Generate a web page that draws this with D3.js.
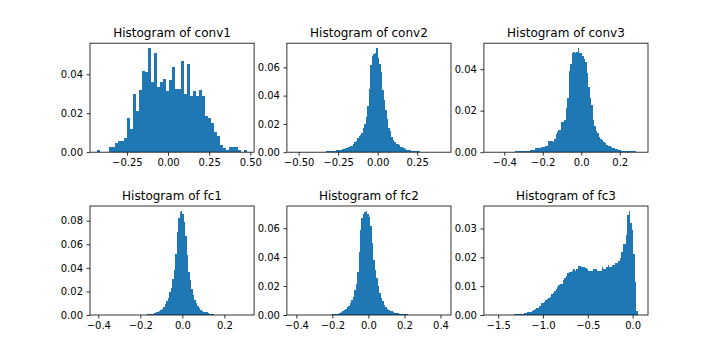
<!DOCTYPE html>
<html>
<head>
<meta charset="utf-8">
<script src="https://cdn.jsdelivr.net/npm/d3@7"></script>
<style>
  body { margin: 0; background: #fff; }
  text { font-family: "DejaVu Sans", sans-serif; }
</style>
</head>
<body>
<script>
'use strict';

// fraction of weights per bin
const conv1Vals = [0.0012, 0, 0, 0, 0.0027, 0.0027, 0.0046, 0.0058, 0.0058, 0.0073,
    0.0176, 0.012, 0.030, 0.021, 0.032, 0.0417, 0.041, 0.0533, 0.036, 0.051,
    0.0335, 0.036, 0.0376, 0.0315, 0.037, 0.044, 0.0325, 0.0325, 0.047, 0.030,
    0.0455, 0.0287, 0.0315, 0.0287, 0.032, 0.0287, 0.0186, 0.0176, 0.015, 0.0106,
    0.0082, 0.0036, 0.0024, 0.0012, 0.0027, 0.0027, 0.0027, 0.0012, 0, 0.0012]
const conv2Vals = [0, 0, 0, 0, 0, 0, 0, 0, 0, 0, 0, 0, 0, 0, 0, 0, 0, 0, 0, 0, 0,
    0.0009, 0.0009, 0.0009, 0.0009, 0.001, 0.001, 0.0012, 0.0016, 0.0016, 0.0016,
    0.0018, 0.0024, 0.0026, 0.0028, 0.0033, 0.0035, 0.0042, 0.0045, 0.0055, 0.0072,
    0.0082, 0.010, 0.0115, 0.0122, 0.0135, 0.017, 0.020, 0.025,
    0.033, 0.045, 0.062, 0.068, 0.0697, 0.0704, 0.0734, 0.0666, 0.0624, 0.0565, 0.044, 0.037,
    0.030, 0.0235, 0.0174, 0.0153, 0.0106, 0.0087, 0.0073, 0.0061, 0.0055, 0.0049,
    0.004, 0.0035, 0.0028, 0.0022, 0.0019, 0.0014, 0.0014, 0.0012, 0.0009, 0.0009,
    0.0009, 0.0009, 0.0008,
    0, 0, 0, 0, 0, 0, 0, 0, 0, 0, 0, 0, 0, 0, 0, 0]
const conv3Vals = [0, 0, 0, 0, 0, 0, 0, 0, 0, 0, 0, 0, 0, 0, 0, 0,
    0.0005, 0.0005, 0.0005, 0.0005, 0.0005, 0.0005, 0.0005, 0.0006, 0.0006, 0.0008,
    0.001, 0.001, 0.0012, 0.002, 0.0021, 0.0021, 0.0022, 0.0024, 0.0024, 0.0025, 0.0029, 0.0029,
    0.0053, 0.0053, 0.0056, 0.0047, 0.0063, 0.0087, 0.0098, 0.0106, 0.0106, 0.0145,
    0.0145, 0.0154, 0.0215, 0.0259,
    0.039, 0.0424, 0.0479, 0.0482, 0.0479, 0.0482, 0.050, 0.0476, 0.048, 0.0463, 0.0447, 0.0435, 0.0382,
    0.0315, 0.0263, 0.0225, 0.0154, 0.0125, 0.0103, 0.0093, 0.0074, 0.0064, 0.0058,
    0.0048, 0.0042, 0.0037, 0.0032, 0.0029, 0.0026,
    0.0021, 0.0021, 0.0016, 0.0016, 0.0013, 0.0013, 0.0008, 0.0008, 0.0008, 0.0006,
    0.0006, 0.0006, 0.0005, 0.0005, 0.0005, 0.0005, 0.0003, 0.0002, 0.0001]
const fc1Vals = [0, 0, 0, 0, 0, 0, 0, 0, 0, 0, 0, 0, 0, 0, 0, 0, 0, 0, 0, 0,
    0, 0, 0, 0, 0, 0, 0, 0, 0, 0, 0, 0, 0,
    0.0006, 0.0008, 0.0008, 0.0008, 0.0012, 0.0017, 0.0023, 0.0025, 0.0031, 0.004, 0.0051, 0.0068,
    0.0093, 0.0116, 0.0147, 0.0192, 0.0232, 0.0305, 0.0384, 0.0517, 0.0706, 0.0819,
    0.087, 0.0881, 0.0853, 0.0791, 0.0667, 0.0511,
    0.0362, 0.0299, 0.022, 0.0169, 0.013, 0.0102, 0.0079, 0.0059, 0.0045, 0.0037,
    0.0028, 0.0023, 0.0023, 0.0014, 0.0011, 0.0008, 0.0008,
    0, 0, 0, 0, 0, 0, 0, 0, 0, 0, 0, 0, 0, 0, 0, 0, 0, 0, 0, 0, 0, 0]
const fc2Vals = [0, 0, 0, 0, 0, 0, 0, 0, 0, 0, 0, 0, 0, 0, 0, 0, 0, 0, 0, 0, 0, 0, 0, 0, 0,
    0.0006, 0.0007, 0.0007, 0.0007, 0.001, 0.0012, 0.0018, 0.0025, 0.0035, 0.004,
    0.0052, 0.006, 0.0081, 0.0101, 0.0125, 0.0171, 0.0217,
    0.0295, 0.0434, 0.059, 0.0669, 0.0701, 0.071, 0.0717, 0.0701, 0.0674, 0.0614, 0.0498, 0.0383,
    0.0314, 0.0256, 0.0198, 0.0152, 0.0118, 0.0097, 0.0072, 0.0055, 0.0042, 0.0035,
    0.0028, 0.0025, 0.0018, 0.0016, 0.0014, 0.0014, 0.0009, 0.0007, 0.0007, 0.0007, 0.0007, 0.0006,
    0, 0, 0, 0, 0, 0, 0, 0, 0, 0, 0, 0, 0, 0, 0, 0, 0, 0, 0, 0, 0, 0, 0, 0]
const fc3Vals = [0, 0, 0, 0, 0, 0, 0, 0, 0, 0, 0, 0, 0, 0, 0,
    0.0003, 0.0003, 0.0003, 0.0003, 0.0003, 0.0003, 0.0005, 0.0007, 0.0007, 0.0009,
    0.0009, 0.0012, 0.0014, 0.0016, 0.002, 0.0023, 0.0025, 0.0031, 0.004, 0.004,
    0.0044, 0.0051, 0.0055, 0.0058, 0.0062, 0.0073, 0.0078, 0.0083, 0.009, 0.0098,
    0.0104, 0.0106, 0.0106,
    0.0121, 0.0128, 0.0135, 0.0144, 0.0149, 0.0149, 0.0151, 0.0158, 0.0153, 0.0158,
    0.017, 0.017, 0.0167, 0.0165, 0.0165, 0.0163, 0.0158, 0.0151, 0.0151, 0.0151,
    0.016, 0.016, 0.016, 0.0151, 0.0153, 0.0153, 0.0165, 0.0158, 0.0158, 0.0167,
    0.0172, 0.0167, 0.0167, 0.0172, 0.0174, 0.0179, 0.0179, 0.0186, 0.0198,
    0.0219, 0.0245, 0.0245, 0.0277, 0.0348, 0.036, 0.032, 0.0294, 0.0211, 0.0115,
    0.0015, 0, 0.0001]

// min / max of the weights (outer bin edges)
const conv1Range = [-0.429, 0.478]
const conv2Range = [-0.527, 0.417]
const conv3Range = [-0.467, 0.308]
const fc1Range = [-0.404, 0.306]
const fc2Range = [-0.411, 0.417]
const fc3Range = [-1.576, 0.088]

// tick labels
const conv1XTicks = [-0.25, 0, 0.25, 0.5]
const conv2XTicks = [-0.5, -0.25, 0, 0.25]
const conv3XTicks = [-0.4, -0.2, 0, 0.2]
const fc1XTicks = [-0.4, -0.2, 0, 0.2]
const fc2XTicks = [-0.4, -0.2, 0, 0.2, 0.4]
const fc3XTicks = [-1.5, -1, -0.5, 0]
const conv1YTicks = [0, 0.02, 0.04]
const conv2YTicks = [0, 0.02, 0.04, 0.06]
const conv3YTicks = [0, 0.02, 0.04]
const fc1YTicks = [0, 0.02, 0.04, 0.06, 0.08]
const fc2YTicks = [0, 0.02, 0.04, 0.06]
const fc3YTicks = [0, 0.01, 0.02, 0.03]

const layerNames = ["conv1", "conv2", "conv3", "fc1", "fc2", "fc3"]

const panels = [
    { name: layerNames[0], vals: conv1Vals, range: conv1Range, xt: conv1XTicks, yt: conv1YTicks, xf: ".2f", yf: ".2f" },
    { name: layerNames[1], vals: conv2Vals, range: conv2Range, xt: conv2XTicks, yt: conv2YTicks, xf: ".2f", yf: ".2f" },
    { name: layerNames[2], vals: conv3Vals, range: conv3Range, xt: conv3XTicks, yt: conv3YTicks, xf: ".1f", yf: ".2f" },
    { name: layerNames[3], vals: fc1Vals, range: fc1Range, xt: fc1XTicks, yt: fc1YTicks, xf: ".1f", yf: ".2f" },
    { name: layerNames[4], vals: fc2Vals, range: fc2Range, xt: fc2XTicks, yt: fc2YTicks, xf: ".1f", yf: ".2f" },
    { name: layerNames[5], vals: fc3Vals, range: fc3Range, xt: fc3XTicks, yt: fc3YTicks, xf: ".1f", yf: ".2f" }
]

const layout = {
    colLeft: [90, 286.9, 483.9],
    rowTop: [43.2, 206],
    w: 164.1,
    h: 109
}

const svg = d3.select("body").append("svg")
    .attr("width", 720)
    .attr("height", 360)

panels.forEach(function (p, k) {
    let col = k % 3
    let row = Math.floor(k / 3)
    let g = svg.append("g")
        .attr("transform", "translate(" + layout.colLeft[col] + "," + layout.rowTop[row] + ")")

    let pad = (p.range[1] - p.range[0]) * 0.05
    let x = d3.scaleLinear()
        .domain([p.range[0] - pad, p.range[1] + pad])
        .range([0, layout.w])
    let y = d3.scaleLinear()
        .domain([0, d3.max(p.vals) * 1.05])
        .range([layout.h, 0])

    let step = (p.range[1] - p.range[0]) / p.vals.length
    let bins = p.vals.map(function (v, i) {
        return { x0: p.range[0] + i * step, x1: p.range[0] + (i + 1) * step, v: v }
    }).filter(d => d.v > 0)

    g.selectAll(".bar")
        .data(bins)
        .enter()
        .append("rect")
        .attr("class", "bar")
        .attr("x", d => x(d.x0))
        .attr("width", d => x(d.x1) - x(d.x0))
        .attr("y", d => y(d.v))
        .attr("height", d => layout.h - y(d.v))
        .attr("fill", "#1f77b4")
        .attr("shape-rendering", "crispEdges")

    let xAxis = g.append("g")
        .attr("transform", "translate(0," + layout.h + ")")
        .call(d3.axisBottom(x).tickValues(p.xt).tickFormat(d3.format(p.xf))
            .tickSize(3.5).tickSizeOuter(0).tickPadding(3.5))
    let yAxis = g.append("g")
        .call(d3.axisLeft(y).tickValues(p.yt).tickFormat(d3.format(p.yf))
            .tickSize(3.5).tickSizeOuter(0).tickPadding(3.5))

    for (let a of [xAxis, yAxis]) {
        a.select(".domain").remove()
        a.selectAll("line").attr("stroke", "#000").attr("stroke-width", 0.8)
        a.selectAll("text")
            .attr("fill", "#000")
            .attr("font-size", "10px")
            .attr("font-family", "DejaVu Sans")
    }

    g.append("rect")
        .attr("width", layout.w)
        .attr("height", layout.h)
        .attr("fill", "none")
        .attr("stroke", "#000")
        .attr("stroke-width", 0.8)

    g.append("text")
        .attr("x", layout.w / 2)
        .attr("y", -6)
        .attr("text-anchor", "middle")
        .attr("font-size", "12px")
        .attr("fill", "#000")
        .text("Histogram of " + p.name)
})
</script>
</body>
</html>
